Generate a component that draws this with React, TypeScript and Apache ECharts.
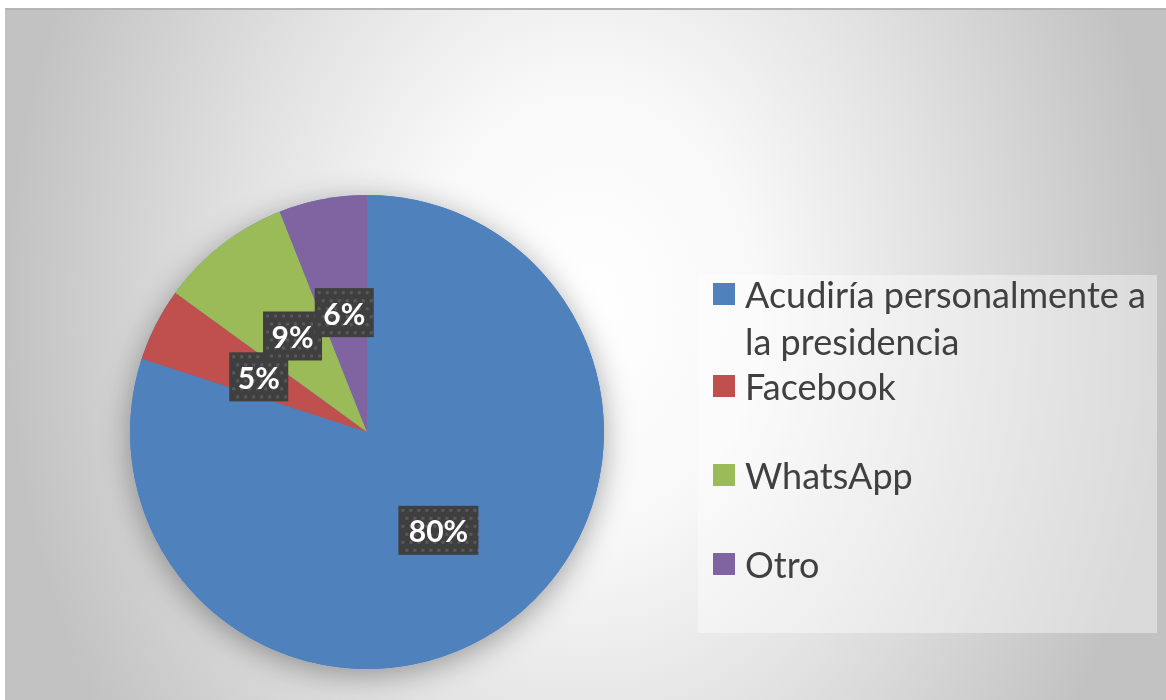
import React, { useEffect, useRef } from "react";
import * as echarts from "echarts";

const categories = ["Acudiría personalmente a la presidencia", "Facebook", "WhatsApp", "Otro"];
const values = [80, 5, 9, 6];
const colors = ["#4f81bd", "#c0504d", "#9bbb59", "#8064a2"];
const legendLines = [["Acudiría personalmente a", "la presidencia"], ["Facebook"], ["WhatsApp"], ["Otro"]];
const legendIconTops = [275, 367, 456, 545];

function makePattern(w: number, h: number): string {
  const c = document.createElement("canvas");
  c.width = w;
  c.height = h;
  const ctx = c.getContext("2d")!;
  ctx.fillStyle = "#3f3f3f";
  ctx.fillRect(0, 0, w, h);
  ctx.fillStyle = "#595959";
  let row = 0;
  for (let y = 3; y < h; y += 8, row++) {
    for (let x = 3 + (row % 2) * 4; x < w; x += 8) {
      ctx.fillRect(x, y, 3, 3);
    }
  }
  return c.toDataURL();
}

export default function App() {
  const ref = useRef<HTMLDivElement>(null);
  useEffect(() => {
    if (!ref.current) return;
    const chart = echarts.init(ref.current, undefined, { renderer: "svg" });
    const W = 1161;
    const cx = 362;
    const cy = 424;
    const R = 237;
    const padL = 8;
    const boxH = 49;

    const legendEls: any[] = [];
    legendLines.forEach((lines, i) => {
      const top = legendIconTops[i];
      legendEls.push({
        type: "rect",
        shape: { x: 708, y: top, width: 22, height: 22 },
        style: { fill: colors[i] },
        z: 20,
        silent: true,
      });
      lines.forEach((ln, j) => {
        legendEls.push({
          type: "text",
          x: 740,
          y: top + 11 + j * 47,
          style: {
            text: ln,
            fill: "#404040",
            font: "36px Lato",
            verticalAlign: "middle",
            align: "left",
          },
          z: 20,
          silent: true,
        });
      });
    });

    const patterns: Record<number, string> = {};
    const dataItems = categories.map((c, i) => {
      const len = `${values[i]}%`.length;
      const cw = len >= 3 ? 64 : 43;
      if (!patterns[cw]) patterns[cw] = makePattern(cw + padL * 2, boxH);
      return {
        name: c,
        value: values[i],
        itemStyle: { color: colors[i] },
        label: { width: cw, backgroundColor: { image: patterns[cw] } },
      };
    });

    chart.setOption({
      animation: false,
      backgroundColor: "transparent",
      graphic: [
        {
          type: "rect",
          shape: { x: 0, y: -450, width: W, height: 1500 },
          style: {
            fill: new echarts.graphic.RadialGradient(0.5, 0.5, 0.5, [
              { offset: 0, color: "#ffffff" },
              { offset: 0.3, color: "#f8f8f8" },
              { offset: 0.6, color: "#e2e2e2" },
              { offset: 1, color: "#c2c2c2" },
            ]),
          },
          z: -100,
          silent: true,
        },
        {
          type: "line",
          shape: { x1: 0, y1: 1, x2: W, y2: 1 },
          style: { stroke: "#b5b5b5", lineWidth: 2 },
          z: 10,
          silent: true,
        },
        {
          type: "rect",
          shape: { x: 693, y: 267, width: 459, height: 358 },
          style: { fill: "rgba(255,255,255,0.4)" },
          z: 5,
          silent: true,
        },
        ...legendEls,
      ],
      series: [
        {
          type: "pie",
          silent: true,
          center: [cx, cy],
          radius: R,
          z: 1,
          label: { show: false },
          labelLine: { show: false },
          itemStyle: {
            color: "#4f81bd",
            shadowBlur: 30,
            shadowColor: "rgba(0,0,0,0.35)",
            shadowOffsetY: 6,
          },
          data: [{ value: 1, name: "" }],
        },
        {
          type: "pie",
          center: [cx, cy],
          radius: R,
          startAngle: 90,
          clockwise: true,
          z: 2,
          avoidLabelOverlap: false,
          percentPrecision: 0,
          itemStyle: { borderWidth: 0 },
          labelLayout: { hideOverlap: false },
          label: {
            show: true,
            position: "inside",
            formatter: "{d}%",
            color: "#ffffff",
            fontFamily: "Lato",
            fontWeight: "bold",
            fontSize: 30,
            lineHeight: 33,
            align: "center",
            padding: [9, padL, 7, padL],
            backgroundColor: "#3f3f3f",
            shadowColor: "rgba(0,0,0,0.45)",
            shadowBlur: 5,
            shadowOffsetX: 3,
            shadowOffsetY: 3,
          },
          labelLine: { show: false },
          emphasis: { disabled: true },
          data: dataItems,
        },
      ],
    });
    return () => chart.dispose();
  }, []);
  return (
    <div
      ref={ref}
      style={{ position: "fixed", left: 5, top: 8, width: 1161, height: 692 }}
    />
  );
}
